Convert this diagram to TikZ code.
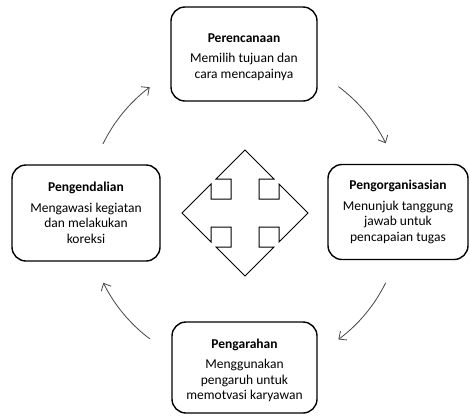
\documentclass[tikz,border=0pt]{standalone}
\usepackage{fontspec}
\setmainfont{Carlito}
\usetikzlibrary{arrows.meta}
\begin{document}
\begin{tikzpicture}[x=1pt,y=-1pt,
  box/.style={draw=black, line width=1.4pt, rounded corners=14pt, inner sep=0pt},
  txt/.style={align=center, inner sep=0pt, font=\fontsize{13.5}{15.5}\selectfont},
  cyc/.style={draw=black!72, line width=0.8pt, -{Straight Barb[length=6pt,width=11pt]}},
  shiftshape/.style={draw=black, line width=1pt, line join=miter}]
\useasboundingbox (0,0) rectangle (470,416);
\node[box, minimum width=146pt, minimum height=94pt] (plan) at (244,54) {};
\node[txt] (plantxt) at ([yshift=-3pt]plan.center)
  {{\bfseries Perencanaan}\\[5pt]Memilih tujuan dan\\cara mencapainya};
\node[box, minimum width=148pt, minimum height=96pt] (ctrl) at (86,213) {};
\node[txt] (ctrltxt) at ([yshift=0pt]ctrl.center)
  {{\bfseries Pengendalian}\\[5pt]Mengawasi kegiatan\\dan melakukan\\koreksi};
\node[box, minimum width=140pt, minimum height=95pt] (org) at (398,212) {};
\node[txt] (orgtxt) at ([yshift=0pt]org.center)
  {{\bfseries Pengorganisasian}\\[5pt]Menunjuk tanggung\\jawab untuk\\pencapaian tugas};
\node[box, minimum width=145pt, minimum height=91pt] (dir) at (244.5,367.5) {};
\node[txt] (dirtxt) at ([yshift=-3pt]dir.center)
  {{\bfseries Pengarahan}\\[5pt]Menggunakan\\pengaruh untuk\\memotvasi karyawan};
% four-way arrow
\coordinate (mid) at (245,213);
\draw[shiftshape] (mid) ++(0,-63) -- ++(-29,29) -- ++(15,0) -- ++(0,20) -- ++(-20,0) -- ++(0,-15)
  -- ++(-29,29) -- ++(29,29) -- ++(0,-15) -- ++(20,0) -- ++(0,20) -- ++(-15,0)
  -- ++(29,29) -- ++(29,-29) -- ++(-15,0) -- ++(0,-20) -- ++(20,0) -- ++(0,15)
  -- ++(29,-29) -- ++(-29,-29) -- ++(0,15) -- ++(-20,0) -- ++(0,-20) -- ++(15,0) -- cycle;
% cycle arrows
\coordinate (ctr) at (244.5,213);
\path (ctr) ++(-154:157.5) coordinate (s1);
\path (ctr) ++(-53.4:157.5) coordinate (s2);
\path (ctr) ++(26.3:157.5) coordinate (s3);
\path (ctr) ++(126.9:157.5) coordinate (s4);
\draw[cyc] (s1) arc[start angle=-154, end angle=-127, radius=157.5];
\draw[cyc] (s2) arc[start angle=-53.4, end angle=-26.3, radius=157.5];
\draw[cyc] (s3) arc[start angle=26.3, end angle=53.4, radius=157.5];
\draw[cyc] (s4) arc[start angle=126.9, end angle=153.7, radius=157.5];
\end{tikzpicture}
\end{document}
